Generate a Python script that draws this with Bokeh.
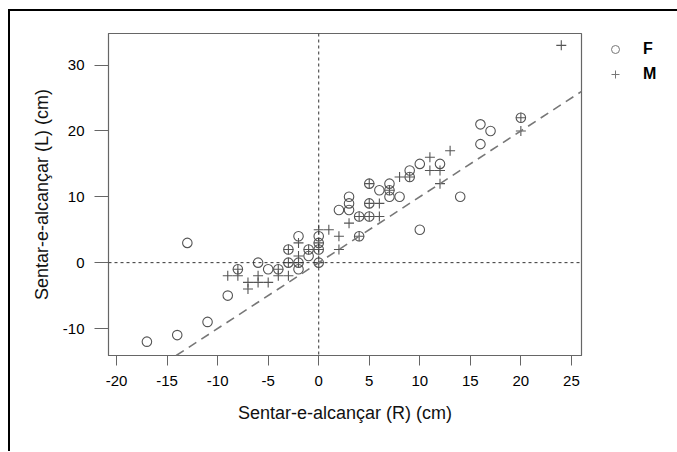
from bokeh.plotting import figure
from bokeh.layouts import row
from bokeh.models import (ColumnDataSource, FixedTicker, Span, Slope, Legend, LegendItem,
                          Range1d, PrintfTickFormatter)
from bokeh.embed import file_html
from bokeh.resources import INLINE

# Data: sit-and-reach right (R) vs left (L), by sex
f_r = [-17, -14, -11, -9, -13, -8, -6, -5, -4, -3, -3, -2, -2, -2, -1, -1, 0, 0, 0, 0,
       2, 3, 3, 3, 4, 4, 5, 5, 5, 6, 7, 7, 7, 8, 9, 9, 10, 10, 12, 14, 16, 16, 17, 20]
f_l = [-12, -11, -9, -5, 3, -1, 0, -1, -1, 0, 2, 4, 0, -1, 2, 1, 0, 2, 3, 4,
       8, 8, 9, 10, 4, 7, 7, 9, 12, 11, 12, 11, 10, 10, 13, 14, 15, 5, 15, 10, 21, 18, 20, 22]
m_r = [-9, -8, -8, -7, -7, -6, -6, -5, -4, -4, -3, -3, -3, -2, -2, -2, -1, 0, 0, 0, 0, 1,
       2, 2, 3, 4, 4, 5, 5, 5, 6, 6, 7, 8, 9, 11, 11, 12, 12, 13, 20, 20, 24]
m_l = [-2, -1, -2, -3, -4, -2, -3, -3, -1, -2, 0, 2, -2, 3, 1, 0, 2, 0, 2, 3, 5, 5,
       4, 2, 6, 4, 7, 7, 9, 12, 9, 7, 11, 13, 13, 16, 14, 14, 12, 17, 22, 20, 33]

x_ticks = [-20, -15, -10, -5, 0, 5, 10, 15, 20, 25]
y_ticks = [-10, 0, 10, 20, 30]
x_title = "Sentar-e-alcançar (R) (cm)"
y_title = "Sentar-e-alcançar (L) (cm)"
legend_labels = ["F", "M"]

FONT = "Liberation Sans"
GRAY = "#666666"
PT = "#555555"

p = figure(width=575, height=440, output_backend="svg", toolbar_location=None,
           x_range=Range1d(-20.8, 26.0), y_range=Range1d(-14.1, 34.8),
           min_border_left=98, min_border_right=4, min_border_top=22, min_border_bottom=96)

p.xgrid.visible = False
p.ygrid.visible = False
p.outline_line_color = GRAY
p.outline_line_width = 1.2
p.background_fill_color = "white"
p.border_fill_color = "white"

for ax in (p.xaxis[0], p.yaxis[0]):
    ax.axis_line_color = GRAY
    ax.major_tick_line_color = GRAY
    ax.minor_tick_line_color = None
    ax.major_tick_in = 0
    ax.major_label_text_font = FONT
    ax.major_label_text_font_size = "15px"
    ax.major_label_text_color = "black"
    ax.axis_label_text_font = FONT
    ax.axis_label_text_font_size = "18px"
    ax.axis_label_text_font_style = "normal"
    ax.axis_label_text_color = "#111111"
    ax.formatter = PrintfTickFormatter(format="%d")

p.xaxis[0].ticker = FixedTicker(ticks=x_ticks)
p.yaxis[0].ticker = FixedTicker(ticks=y_ticks)
p.xaxis[0].major_tick_out = 10
p.yaxis[0].major_tick_out = 14
p.xaxis[0].major_label_standoff = 10
p.yaxis[0].major_label_standoff = 10
p.xaxis[0].axis_label = x_title
p.yaxis[0].axis_label = y_title
p.xaxis[0].axis_label_standoff = 14
p.yaxis[0].axis_label_standoff = 8

# reference lines
p.add_layout(Span(location=0, dimension="height", line_color="#333333", line_dash="3 3", line_width=1))
p.add_layout(Span(location=0, dimension="width", line_color="#333333", line_dash="3 3", line_width=1))
p.add_layout(Slope(gradient=1, y_intercept=0, line_color="#777777", line_dash="9 6", line_width=1.6))

src_f = ColumnDataSource(dict(x=f_r, y=f_l))
src_m = ColumnDataSource(dict(x=m_r, y=m_l))
p.scatter("x", "y", source=src_f, marker="circle", size=9.5, fill_color=None,
          line_color=PT, line_width=1.1)
p.scatter("x", "y", source=src_m, marker="cross", size=10, line_color=PT, line_width=1.1)

# legend panel (outside the plot box, to the right)
lg = figure(width=92, height=440, output_backend="svg", toolbar_location=None,
            x_axis_location=None, y_axis_location=None,
            x_range=Range1d(0, 1), y_range=Range1d(0, 1),
            min_border_left=14, min_border_right=0, min_border_top=0, min_border_bottom=0)
lg.xgrid.visible = False
lg.ygrid.visible = False
lg.outline_line_color = None
# off-range proxies: only their legend glyphs are seen
lf = lg.scatter(x=[-5], y=[-5], marker="circle", size=8, fill_color=None, line_color="#777777", line_width=1)
lm = lg.scatter(x=[-5], y=[-5], marker="cross", size=8, line_color="#777777", line_width=1)
legend = Legend(items=[LegendItem(label=legend_labels[0], renderers=[lf]),
                       LegendItem(label=legend_labels[1], renderers=[lm])],
                location="top_left", border_line_color=None, background_fill_alpha=0,
                label_text_font=FONT, label_text_font_size="16px", label_text_font_style="bold",
                label_text_color="black",
                glyph_width=20, glyph_height=20, label_standoff=18, spacing=5, padding=0,
                margin=6)
lg.add_layout(legend)

layout = row(p, lg)
layout.styles = {"margin-left": "8px", "margin-top": "9px",
                 "border-top": "2px solid black", "border-left": "2px solid black"}

open("out.html", "w").write(file_html(layout, INLINE))
